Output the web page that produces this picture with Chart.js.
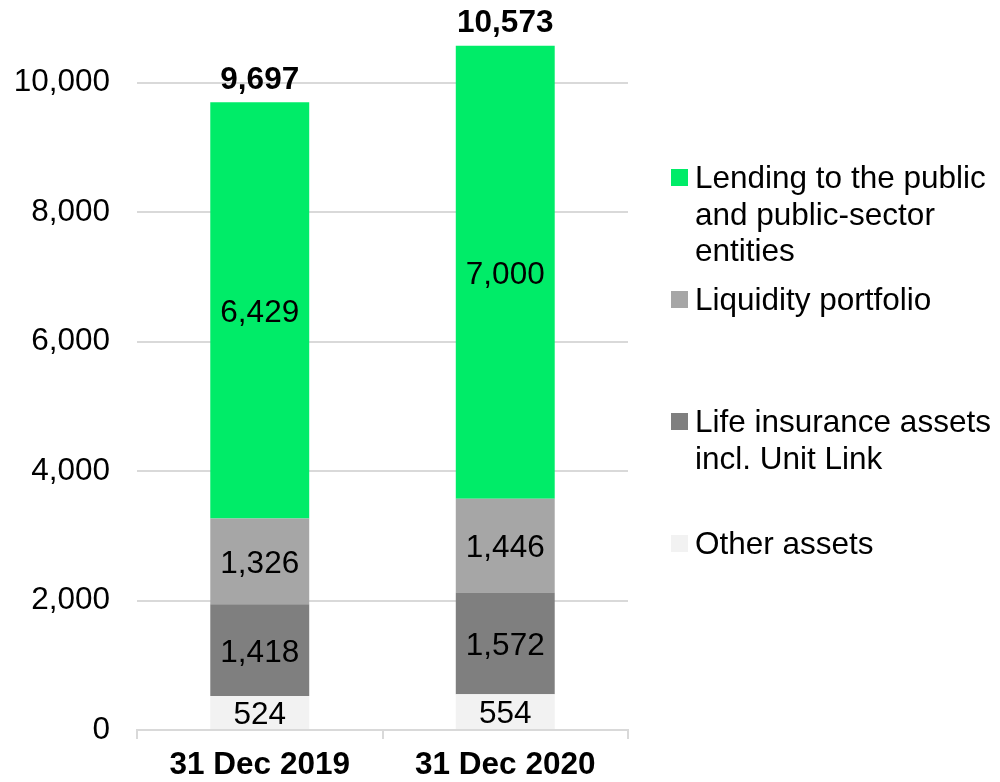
<!DOCTYPE html>
<html>
<head>
<meta charset="utf-8">
<script src="https://cdn.jsdelivr.net/npm/chart.js@4/dist/chart.umd.min.js"></script>
<style>
  html, body { margin: 0; padding: 0; background: #fff; }
  #wrap { position: relative; width: 1000px; height: 782px; overflow: hidden; }
  canvas { position: absolute; left: 0; top: 0; }
  .leg { position: absolute; left: 671px; font-family: "Liberation Sans", Arial, sans-serif; font-size: 31.5px; line-height: 36.5px; color: #000; }
  .leg .sw { position: absolute; left: 0; top: 10px; width: 17px; height: 17px; }
  .leg .tx { position: absolute; left: 24px; top: 0; white-space: nowrap; }
</style>
</head>
<body>
<div id="wrap">
  <canvas id="c" width="1000" height="782"></canvas>
  <div id="legend"></div>
</div>
<script>
const categories = ['31 Dec 2019', '31 Dec 2020'];
const otherAssets = [524, 554];
const lifeInsurance = [1418, 1572];
const liquidity = [1326, 1446];
const lending = [6429, 7000];
const totals = [9697, 10573];
const yTicks = [0, 2000, 4000, 6000, 8000, 10000];

const seriesNames = ['Other assets', 'Life insurance assets incl. Unit Link', 'Liquidity portfolio', 'Lending to the public and public-sector entities'];
const colors = ['#F2F2F2', '#7F7F7F', '#A6A6A6', '#00EC68'];

const FONT = '"Liberation Sans", Arial, sans-serif';
const fmt = v => v.toLocaleString('en-US');

const labelPlugin = {
  id: 'labels',
  afterDatasetsDraw(chart) {
    const ctx = chart.ctx;
    ctx.save();
    ctx.textAlign = 'center';
    ctx.textBaseline = 'middle';
    ctx.fillStyle = '#000';
    ctx.font = '31.5px ' + FONT;
    chart.data.datasets.forEach((ds, i) => {
      const meta = chart.getDatasetMeta(i);
      meta.data.forEach((bar, j) => {
        const cy = (bar.y + bar.base) / 2;
        ctx.fillText(fmt(ds.data[j]), bar.x, cy + 3);
      });
    });
    const topMeta = chart.getDatasetMeta(chart.data.datasets.length - 1);
    ctx.font = 'bold 31.5px ' + FONT;
    topMeta.data.forEach((bar, j) => {
      ctx.fillText(fmt(totals[j]), bar.x, bar.y - 22);
    });
    ctx.restore();
  }
};

const datasets = [otherAssets, lifeInsurance, liquidity, lending].map((d, i) => ({
  label: seriesNames[i],
  data: d,
  backgroundColor: colors[i],
  borderWidth: 0,
  barPercentage: 0.806,
  categoryPercentage: 0.5
}));

new Chart(document.getElementById('c'), {
  type: 'bar',
  data: { labels: categories, datasets },
  options: {
    responsive: false,
    animation: false,
    layout: { padding: { left: 14, right: 372, top: 18, bottom: 0 } },
    plugins: { legend: { display: false }, tooltip: { enabled: false } },
    scales: {
      x: {
        stacked: true,
        afterFit: axis => { axis.height = 52; axis.paddingLeft = 0; axis.paddingRight = 0; },
        grid: { display: true, drawOnChartArea: false, drawTicks: true, tickLength: 9, color: '#D9D9D9', lineWidth: 2, offset: true },
        border: { display: true, color: '#D9D9D9', width: 2 },
        ticks: { color: '#000', font: { family: FONT, size: 31.5, weight: 'bold', lineHeight: 1.0 }, padding: 11 }
      },
      y: {
        stacked: true,
        min: 0,
        max: 11000,
        afterBuildTicks: axis => { axis.ticks = yTicks.map(v => ({ value: v })); },
        afterFit: axis => { axis.width = 123; axis.paddingTop = 0; axis.paddingBottom = 0; },
        grid: { color: '#D9D9D9', lineWidth: 2, drawTicks: false },
        border: { display: false },
        ticks: { color: '#000', font: { family: FONT, size: 31.5 }, padding: 27, callback: v => fmt(v) }
      }
    }
  },
  plugins: [labelPlugin]
});

// Legend (HTML, real text)
const legendItems = [
  { idx: 3, lines: ['Lending to the public', 'and public-sector', 'entities'], top: 159 },
  { idx: 2, lines: ['Liquidity portfolio'], top: 281 },
  { idx: 1, lines: ['Life insurance assets', 'incl. Unit Link'], top: 403 },
  { idx: 0, lines: ['Other assets'], top: 525 }
];
const lg = document.getElementById('legend');
legendItems.forEach(it => {
  const d = document.createElement('div');
  d.className = 'leg';
  d.style.top = it.top + 'px';
  const sw = document.createElement('div');
  sw.className = 'sw';
  sw.style.background = colors[it.idx];
  const tx = document.createElement('div');
  tx.className = 'tx';
  tx.innerHTML = it.lines.join('<br>');
  d.appendChild(sw);
  d.appendChild(tx);
  lg.appendChild(d);
});
</script>
</body>
</html>
